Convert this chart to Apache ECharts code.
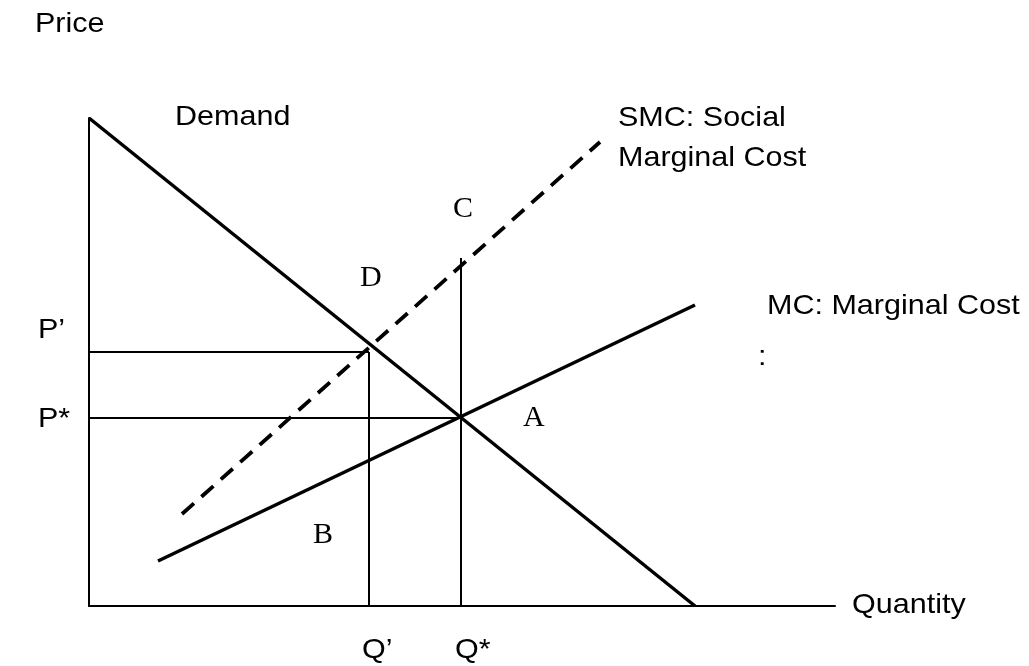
<!DOCTYPE html>
<html>
<head>
<meta charset="utf-8">
<script src="https://cdn.jsdelivr.net/npm/echarts@6/dist/echarts.min.js"></script>
<style>
html,body{margin:0;padding:0;background:#fff;}
#chart{width:1029px;height:666px;}
</style>
</head>
<body>
<div id="chart"></div>
<script>
// Diagram values (arbitrary units: quantity 0..746, price 0..488)
const demandLine = [[0, 488], [606, 0]];
const mcLine = [[69, 45], [606, 301]];
const smcLine = [[93, 92], [511, 464]];
const qStarLine = [[372, 0], [372, 348]];
const qPrimeLine = [[280, 0], [280, 254]];
const pStarLine = [[0, 188], [372, 188]];
const pPrimeLine = [[0, 254], [280, 254]];
const xRange = [0, 746];
const yRange = [0, 488];

const sans = '"Liberation Sans", Arial, sans-serif';
const serif = '"Liberation Serif", "Times New Roman", serif';

function sText(txt, x, y) {
  return {
    type: 'text', x: x, y: y, scaleX: 1.09,
    style: { text: txt, font: '28px ' + sans, fill: '#000', textAlign: 'left', textVerticalAlign: 'middle', verticalAlign: 'middle' }
  };
}
function rText(txt, x, y) {
  return {
    type: 'text', x: x, y: y,
    style: { text: txt, font: '30px ' + serif, fill: '#000', textAlign: 'left', textVerticalAlign: 'middle', verticalAlign: 'middle' }
  };
}

function lineSeries(name, data, width, type) {
  return {
    name: name, type: 'line', data: data, symbol: 'none', silent: true,
    lineStyle: { color: '#000', width: width, type: type || 'solid', cap: 'butt' }
  };
}

const chart = echarts.init(document.getElementById('chart'), null, { renderer: 'canvas' });
chart.setOption({
  animation: false,
  backgroundColor: '#fff',
  grid: { left: 89, right: 194, top: 118, bottom: 60, containLabel: false },
  xAxis: {
    type: 'value', min: xRange[0], max: xRange[1],
    axisLine: { show: true, onZero: false, lineStyle: { color: '#000', width: 2 } },
    axisTick: { show: false }, axisLabel: { show: false }, splitLine: { show: false }
  },
  yAxis: {
    type: 'value', min: yRange[0], max: yRange[1],
    axisLine: { show: true, onZero: false, lineStyle: { color: '#000', width: 2 } },
    axisTick: { show: false }, axisLabel: { show: false }, splitLine: { show: false }
  },
  series: [
    lineSeries('Q*', qStarLine, 2),
    lineSeries("Q'", qPrimeLine, 2),
    lineSeries('P*', pStarLine, 2),
    lineSeries("P'", pPrimeLine, 2),
    lineSeries('Demand', demandLine, 3.5),
    lineSeries('MC', mcLine, 3.5),
    lineSeries('SMC', smcLine, 3.8, [16, 10])
  ],
  graphic: [
    sText('Price', 35, 24),
    sText('Demand', 175, 117),
    sText('SMC: Social', 618, 118),
    sText('Marginal Cost', 618, 158),
    sText('MC: Marginal Cost', 767, 306),
    sText(':', 758, 357),
    sText('P\u2019', 38, 330),
    sText('P*', 38, 419),
    sText('Q\u2019', 362, 650),
    sText('Q*', 455, 650),
    sText('Quantity', 852, 605),
    rText('C', 453, 209),
    rText('D', 360, 278),
    rText('A', 523, 418),
    rText('B', 313, 535)
  ]
});
</script>
</body>
</html>
